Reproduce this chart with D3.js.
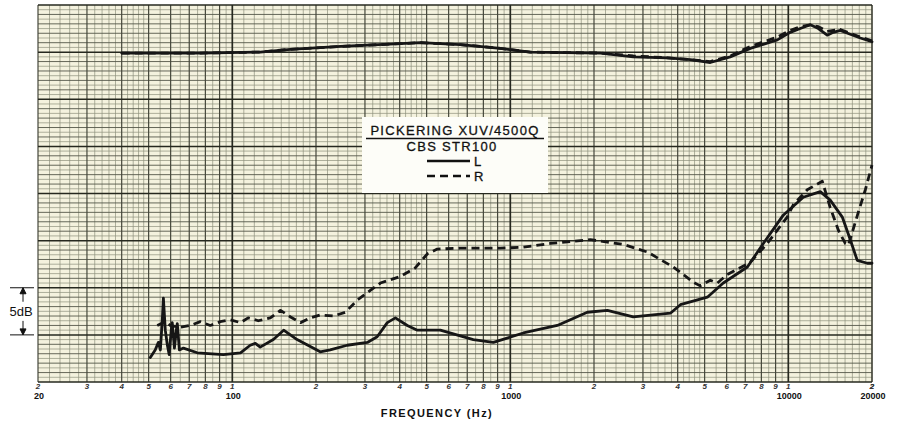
<!DOCTYPE html>
<head>
  <meta charset="utf-8">
  <script src="https://d3js.org/d3.v7.min.js"></script>
  <style>
    body { margin: 0; background: #fff; font-family: "Liberation Sans", Arial, sans-serif; }
    .curve { fill: none; stroke: #161616; stroke-width: 2.8px; stroke-linejoin: round; stroke-linecap: round; }
    .dashed { stroke-dasharray: 8 5; stroke-linecap: butt; }
  </style>
</head>
<body>
  <div id="vis"></div>
  <script>
    // frequency response (upper pair), separation (lower pair): [Hz, dB]
    var topL = [[40,-0.1],[77,-0.1],[126,0],[162,0.3],[245,0.6],[402,0.9],[475,1.0],[661,0.8],[920,0.4],[1180,0],
      [2110,-0.1],[2770,-0.5],[3670,-0.6],[4440,-0.8],[5240,-1.1],[6180,-0.5],[7300,0.4],[9130,1.3],[10160,2.1],
      [11040,2.5],[12000,2.9],[12830,2.5],[13800,1.8],[14520,2.1],[15380,2.3],[16700,1.9],[18160,1.5],[20000,1.1]];
    var topR = [[40,-0.1],[77,-0.1],[126,0],[162,0.3],[245,0.6],[402,0.9],[475,1.0],[661,0.8],[920,0.4],[1180,0],
      [2110,-0.1],[2770,-0.4],[3670,-0.6],[4440,-0.8],[5240,-1.0],[6180,-0.4],[7300,0.6],[9130,1.6],[10160,2.3],
      [11040,2.7],[12000,2.9],[12830,2.7],[13800,2.2],[14520,2.3],[15380,2.4],[16700,2.0],[18160,1.6],[20000,1.2]];
    var lowL = [[50.7,-32.4],[52.8,-31.6],[54.2,-30.8],[55.1,-31.6],[56.0,-28.4],[56.5,-26.1],[57.4,-29.5],[58.4,-31.1],
      [59.3,-32.1],[60.3,-29.5],[60.8,-28.7],[61.9,-31.4],[62.9,-29.5],[63.4,-28.8],[64.5,-31.6],[66.7,-31.4],
      [74.8,-31.9],[92.8,-32.1],[107,-31.9],[116,-31.1],[121,-30.9],[126,-31.3],[140.5,-30.5],[153,-29.5],[171,-30.5],
      [207,-31.8],[225,-31.6],[259,-31.1],[306,-30.8],[332,-30.2],[361,-28.7],[386,-28.2],[426,-29.0],[463,-29.5],
      [560,-29.5],[736,-30.5],[869,-30.8],[1114,-29.8],[1476,-29.0],[1892,-27.6],[2234,-27.4],[2769,-28.1],[3765,-27.7],
      [4091,-26.8],[5113,-26.0],[5836,-24.5],[7125,-22.8],[8130,-20.3],[9590,-17.3],[11320,-15.4],[13030,-14.8],
      [14150,-15.7],[15640,-17.5],[16710,-19.9],[17700,-22.1],[19240,-22.4],[20000,-22.4]];
    var lowR = [[53.7,-29.0],[57.4,-28.6],[59.8,-29.0],[65.0,-29.2],[70.6,-29.0],[76.7,-28.6],[83.3,-29.0],[90.5,-28.6],
      [98.4,-28.4],[107,-28.7],[114,-28.2],[124,-28.5],[137,-28.2],[149,-27.4],[162,-28.1],[176,-28.7],[191,-28.2],
      [207,-27.9],[231,-28.0],[255,-27.6],[282,-26.3],[341,-24.5],[402,-23.8],[455,-22.9],[503,-21.4],[546,-20.9],
      [661,-20.8],[920,-20.8],[1114,-20.7],[1393,-20.3],[1940,-19.9],[2548,-20.4],[3109,-21.2],[3857,-22.8],
      [4550,-24.4],[4821,-24.8],[5242,-24.2],[5554,-24.5],[6035,-23.6],[7297,-22.3],[8400,-20.3],[9910,-17.5],
      [10420,-16.2],[11700,-14.6],[13250,-13.7],[14150,-16.5],[15140,-18.9],[16030,-20.3],[16440,-20.5],
      [16990,-19.1],[17850,-17.0],[18930,-14.6],[20000,-12.0]];

    var decadeLabels = [[20,"20"],[100,"100"],[1000,"1000"],[10000,"10000"],[20000,"20000"]];
    var legendTitle = "PICKERING XUV/4500Q", legendSub = "CBS STR100";

    var width = 897, height = 426;
    var svg = d3.select("#vis").append("svg").attr("width", width).attr("height", height);

    var x = d3.scaleLog().domain([20, 20000]).range([38, 872]);
    var y = d3.scaleLinear().domain([-35, 5]).range([382, 5]);

    ////////// chart paper //////////
    svg.append("rect").attr("x", x(20)).attr("y", y(5))
      .attr("width", x(20000) - x(20)).attr("height", y(-35) - y(5))
      .attr("fill", "#f4f2de");

    var grid = svg.append("g");
    var fineF = [], mainF = [];
    [10, 100, 1000, 10000].forEach(function (d) {
      for (var m = 1; m < 10; m += (m < 2 ? 0.1 : m < 5 ? 0.2 : 0.5)) {
        var f = +(d * m).toFixed(3);
        if (f < 20 || f > 20000) continue;
        if (Math.abs(m - Math.round(m)) < 1e-6) mainF.push(f); else fineF.push(f);
      }
    });
    mainF.push(20000);

    var fineDb = d3.range(-35, 5.01, 0.5).filter(function (d) { return d % 1 !== 0; });
    var midDb = d3.range(-35, 5.01, 1).filter(function (d) { return d % 5 !== 0; });
    var heavyDb = d3.range(-35, 5.01, 5);

    grid.selectAll(".hf").data(fineDb).enter().append("line")
      .attr("x1", x(20)).attr("x2", x(20000)).attr("y1", y).attr("y2", y)
      .attr("stroke", "#8e907d").attr("stroke-width", 0.7);
    grid.selectAll(".vf").data(fineF).enter().append("line")
      .attr("x1", x).attr("x2", x).attr("y1", y(5)).attr("y2", y(-35))
      .attr("stroke", "#8e907d").attr("stroke-width", 0.7);
    grid.selectAll(".hm").data(midDb).enter().append("line")
      .attr("x1", x(20)).attr("x2", x(20000)).attr("y1", y).attr("y2", y)
      .attr("stroke", "#55574a").attr("stroke-width", 0.9);
    grid.selectAll(".vm").data(mainF).enter().append("line")
      .attr("x1", x).attr("x2", x).attr("y1", y(5)).attr("y2", y(-35))
      .attr("stroke", function (d) { return String(d)[0] === "1" ? "#26281f" : "#45473b"; })
      .attr("stroke-width", function (d) { return String(d)[0] === "1" ? 1.7 : 1.2; });
    grid.selectAll(".hh").data(heavyDb).enter().append("line")
      .attr("x1", x(20)).attr("x2", x(20000)).attr("y1", y).attr("y2", y)
      .attr("stroke", "#26281f").attr("stroke-width", 1.5);

    ////////// curves //////////
    var line = d3.line().x(function (d) { return x(d[0]); }).y(function (d) { return y(d[1]); });
    var curves = svg.append("g");
    curves.append("path").datum(topR).attr("class", "curve dashed").attr("d", line);
    curves.append("path").datum(topL).attr("class", "curve").attr("d", line);
    curves.append("path").datum(lowR).attr("class", "curve dashed").attr("d", line);
    curves.append("path").datum(lowL).attr("class", "curve").attr("d", line).attr("stroke-width", 2.4);

    ////////// legend //////////
    var lg = svg.append("g");
    lg.append("rect").attr("x", 362).attr("y", 117).attr("width", 186).attr("height", 76).attr("fill", "#fdfdf8");
    lg.append("text").attr("x", 455).attr("y", 135).attr("text-anchor", "middle")
      .attr("font-size", 13).attr("letter-spacing", 1.3).attr("fill", "#111")
      .attr("stroke", "#111").attr("stroke-width", 0.3).text(legendTitle);
    lg.append("line").attr("x1", 366).attr("x2", 544).attr("y1", 138.5).attr("y2", 138.5)
      .attr("stroke", "#111").attr("stroke-width", 1.4);
    lg.append("text").attr("x", 452).attr("y", 151).attr("text-anchor", "middle")
      .attr("font-size", 13).attr("letter-spacing", 1.3).attr("fill", "#111")
      .attr("stroke", "#111").attr("stroke-width", 0.3).text(legendSub);
    lg.append("line").attr("x1", 427).attr("x2", 470).attr("y1", 161).attr("y2", 161)
      .attr("stroke", "#111").attr("stroke-width", 2.6);
    lg.append("line").attr("x1", 427).attr("x2", 470).attr("y1", 176).attr("y2", 176)
      .attr("stroke", "#111").attr("stroke-width", 2.6).attr("stroke-dasharray", "8 5");
    lg.append("text").attr("x", 474).attr("y", 166).attr("font-size", 13).attr("fill", "#111")
      .attr("stroke", "#111").attr("stroke-width", 0.3).text("L");
    lg.append("text").attr("x", 474).attr("y", 181).attr("font-size", 13).attr("fill", "#111")
      .attr("stroke", "#111").attr("stroke-width", 0.3).text("R");

    ////////// 5 dB marker //////////
    var mk = svg.append("g").attr("stroke", "#111").attr("fill", "#111");
    mk.append("line").attr("x1", 10).attr("x2", 34).attr("y1", y(-25)).attr("y2", y(-25));
    mk.append("line").attr("x1", 10).attr("x2", 34).attr("y1", y(-30)).attr("y2", y(-30));
    mk.append("line").attr("x1", 23).attr("x2", 23).attr("y1", y(-25)).attr("y2", y(-25) + 14);
    mk.append("line").attr("x1", 23).attr("x2", 23).attr("y1", y(-30) - 14).attr("y2", y(-30));
    mk.append("path").attr("d", "M23," + y(-25) + "l-3,6h6z");
    mk.append("path").attr("d", "M23," + y(-30) + "l-3,-6h6z");
    mk.append("text").attr("x", 21).attr("y", (y(-25) + y(-30)) / 2 + 5).attr("stroke", "none")
      .attr("text-anchor", "middle").attr("font-size", 13).text("5dB");

    ////////// frequency axis //////////
    var ax = svg.append("g").attr("font-size", 8).attr("font-style", "italic").attr("font-weight", "bold").attr("fill", "#333");
    ax.selectAll(".digit").data(mainF).enter().append("text")
      .attr("x", x).attr("y", 389).attr("text-anchor", "middle")
      .text(function (d) { return String(d)[0]; });
    svg.append("g").attr("font-size", 9).attr("font-weight", "bold").attr("fill", "#111")
      .selectAll("text").data(decadeLabels).enter().append("text")
      .attr("x", function (d) { return x(d[0]) + 1; }).attr("y", 399).attr("text-anchor", "middle")
      .text(function (d) { return d[1]; });
    svg.append("text").attr("x", 437).attr("y", 417).attr("text-anchor", "middle")
      .attr("font-size", 11).attr("font-weight", "bold").attr("letter-spacing", 1.4).attr("fill", "#111")
      .text("FREQUENCY (Hz)");
  </script>
</body>
